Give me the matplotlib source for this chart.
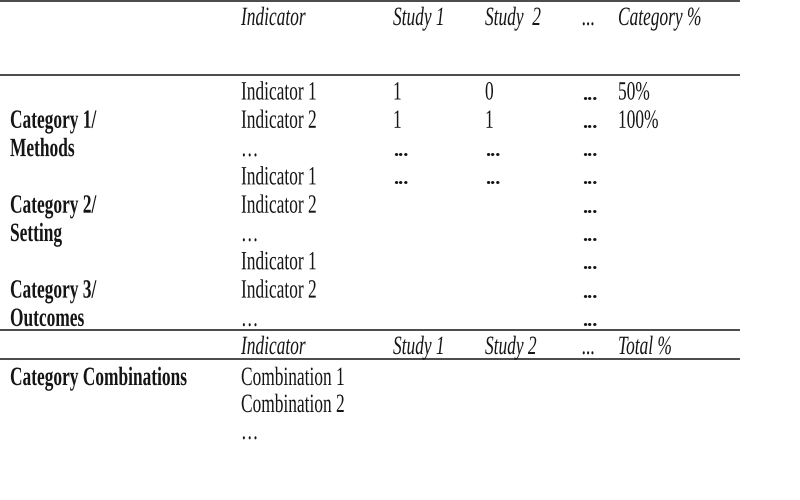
import matplotlib
matplotlib.use("Agg")
import matplotlib.pyplot as plt
import matplotlib.patheffects as pe
from matplotlib.transforms import Affine2D

# contenu du tableau
header_top = ["Indicator", "Study 1", "Study  2", "...", "Category %"]
header_bottom = ["Indicator", "Study 1", "Study 2", "...", "Total %"]
category_names = ["Category 1/", "Category 2/", "Category 3/"]
category_subs = ["Methods", "Setting", "Outcomes"]
indicators = ["Indicator 1", "Indicator 2", "…"]
study1 = ["1", "1", "...", "...", "", "", "", "", ""]
study2 = ["0", "1", "...", "...", "", "", "", "", ""]
more_studies = ["..."] * 9
category_pct = ["50%", "100%", "", "", "", "", "", "", ""]
combo_label = "Category Combinations"
combinations = ["Combination 1", "Combination 2", "…"]


class Stretch(pe.AbstractPathEffect):
    """Police étroite : on étire le texte verticalement depuis la ligne de base"""

    def __init__(self, sy=1.52):
        super().__init__()
        self.sy = sy

    def draw_path(self, renderer, gc, tpath, affine, rgbFace=None):
        renderer.draw_path(gc, tpath, Affine2D().scale(1, self.sy) + affine, rgbFace)


FONT = "Liberation Serif"
SIZE = 12.5
INK = "#151515"
stretch = [Stretch(1.52)]

col_x = [241, 393, 485, 582, 618]  # Indicator, Study 1, Study 2, ..., %
first_x = 10
row0, pitch = 99.5, 28.3


def put(x, y, s, weight="normal", style="normal"):
    if s == "..." and weight == "bold":
        # gros points carrés, sans étirement
        plt.text(x, y, s, fontsize=15, family=FONT, weight="bold",
                 color=INK, ha="left", va="baseline")
        return
    plt.text(x, y, s, fontsize=SIZE, family=FONT, weight=weight, style=style,
             color=INK, ha="left", va="baseline", path_effects=stretch)


fig = plt.figure(figsize=(8, 5), dpi=100)
ax = fig.add_axes([0, 0, 1, 1])
ax.set_xlim(0, 800)
ax.set_ylim(500, 0)
ax.axis("off")

# lignes horizontales
for y in [1, 75, 330, 359]:
    ax.plot([0, 740], [y, y], color="#3a3a3a", linewidth=1.3, solid_capstyle="butt")

# en-tête du haut
for x, s in zip(col_x, header_top):
    put(x, 25, s, style="italic")

# lignes des indicateurs
for i in range(9):
    y = row0 + i * pitch
    put(col_x[0], y, indicators[i % 3])
    put(col_x[1], y, study1[i], weight="bold" if study1[i] == "..." else "normal")
    put(col_x[2], y, study2[i], weight="bold" if study2[i] == "..." else "normal")
    put(col_x[3], y, more_studies[i], weight="bold")
    put(col_x[4], y, category_pct[i])

# catégories (en gras)
for k in range(3):
    y = row0 + (3 * k + 1) * pitch
    put(first_x, y, category_names[k], weight="bold")
    put(first_x, y + pitch, category_subs[k], weight="bold")

# en-tête du bas
for x, s in zip(col_x, header_bottom):
    put(x, 354, s, style="italic")

# combinaisons
put(first_x, 385, combo_label, weight="bold")
for j, s in enumerate(combinations):
    put(col_x[0], 385 + j * 27, s)

plt.savefig("out.png", dpi=100, facecolor="white")
